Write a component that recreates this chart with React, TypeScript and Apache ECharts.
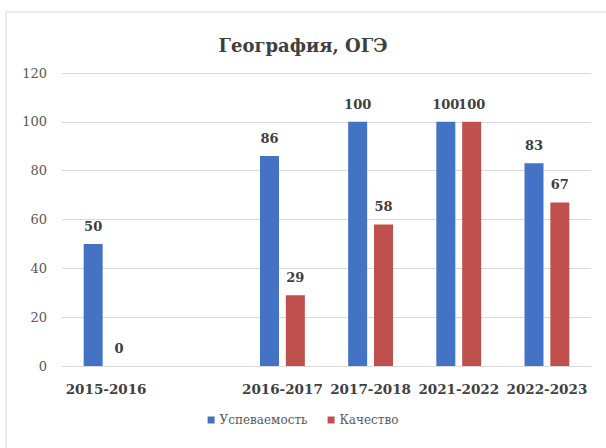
import React, { useEffect, useRef } from "react";
import * as echarts from "echarts";

const categories = ["2015-2016", "", "2016-2017", "2017-2018", "2021-2022", "2022-2023"];
const uspevaemost = [50, null, 86, 100, 100, 83];
const kachestvo = [0, null, 29, 58, 100, 67];
const seriesNames = ["Успеваемость", "Качество"];
const titleText = "География, ОГЭ";

const FONT = "DejaVu Serif";

export default function App() {
  const ref = useRef<HTMLDivElement>(null);
  useEffect(() => {
    document.body.style.margin = "0";
    const chart = echarts.init(ref.current!, null, { renderer: "svg" });
    const label = {
      show: true,
      position: "top",
      distance: 11,
      color: "#404040",
      fontFamily: FONT,
      fontSize: 13,
      fontWeight: "bold",
      formatter: (p: any) => (p.value == null ? "" : String(p.value)),
    };
    chart.setOption({
      animation: false,
      backgroundColor: "#ffffff",
      title: {
        text: titleText,
        left: "center",
        top: 31,
        textStyle: { fontFamily: FONT, fontSize: 18, fontWeight: "bold", color: "#404040" },
      },
      graphic: [
        {
          type: "rect",
          shape: { x: 6, y: 12, width: 620, height: 460 },
          style: { fill: "none", stroke: "#d9d9d9", lineWidth: 1 },
          silent: true,
        },
      ],
      legend: {
        bottom: 17,
        left: "center",
        itemWidth: 7,
        itemHeight: 7,
        itemGap: 20,
        icon: "rect",
        textStyle: { fontFamily: FONT, fontSize: 12, color: "#595959" },
        data: seriesNames,
      },
      grid: { left: 62, right: 15, top: 73, bottom: 82, containLabel: false },
      xAxis: {
        type: "category",
        data: categories,
        axisTick: { show: false },
        axisLine: { show: true, lineStyle: { color: "#d9d9d9" } },
        axisLabel: {
          interval: 0,
          margin: 16,
          fontFamily: FONT,
          fontSize: 13.5,
          fontWeight: "bold",
          color: "#404040",
        },
      },
      yAxis: {
        type: "value",
        min: 0,
        max: 120,
        interval: 20,
        axisLine: { show: false },
        axisTick: { show: false },
        axisLabel: { margin: 15, fontFamily: FONT, fontSize: 13, color: "#595959" },
        splitLine: { lineStyle: { color: "#d9d9d9" } },
      },
      series: [
        {
          name: seriesNames[0],
          type: "bar",
          data: uspevaemost,
          barWidth: 19,
          barGap: "36%",
          itemStyle: { color: "#4472C4" },
          label,
        },
        {
          name: seriesNames[1],
          type: "bar",
          data: kachestvo,
          barWidth: 19,
          itemStyle: { color: "#C0504D" },
          label,
        },
      ],
    });
    return () => chart.dispose();
  }, []);
  return <div ref={ref} style={{ position: "fixed", left: 0, top: 0, width: 606, height: 448 }} />;
}
